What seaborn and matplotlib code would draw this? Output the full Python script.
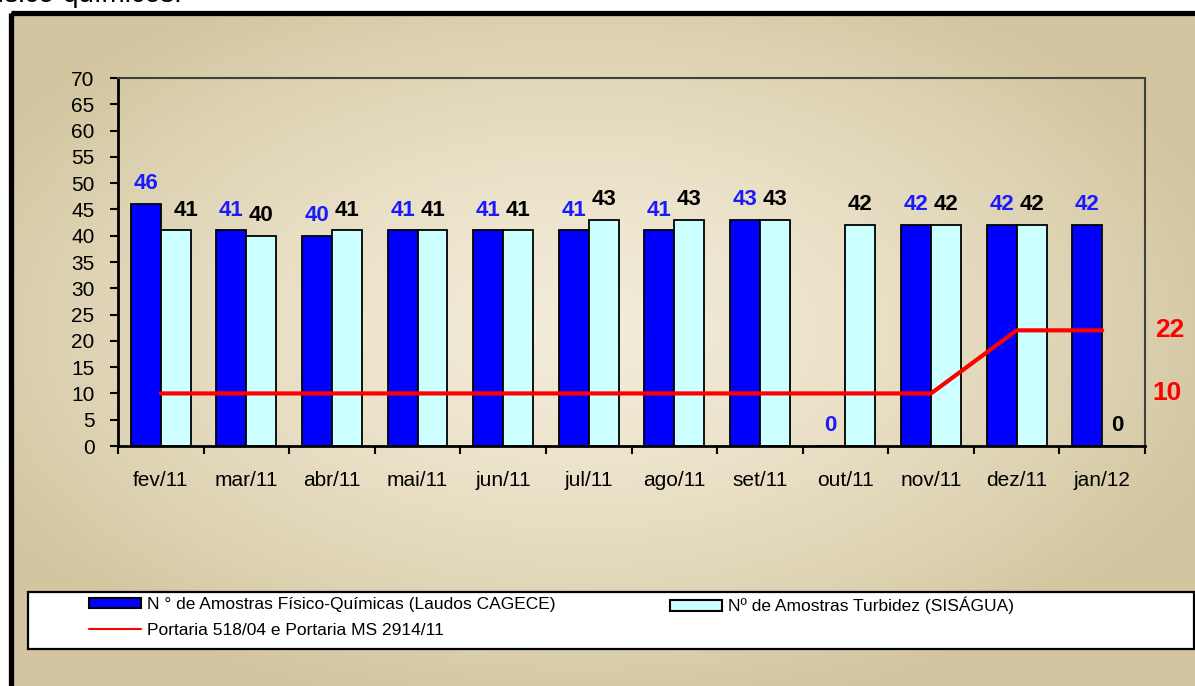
import numpy as np
import pandas as pd
import matplotlib
matplotlib.use("Agg")
import matplotlib.pyplot as plt
from matplotlib.patches import Patch, Rectangle
from matplotlib.lines import Line2D
import seaborn as sns

# dados
meses = ['fev/11', 'mar/11', 'abr/11', 'mai/11', 'jun/11', 'jul/11',
         'ago/11', 'set/11', 'out/11', 'nov/11', 'dez/11', 'jan/12']
fisico_quimicas = [46, 41, 40, 41, 41, 41, 41, 43, 0, 42, 42, 42]
turbidez = [41, 40, 41, 41, 41, 43, 43, 43, 42, 42, 42, 0]
portaria = [10, 10, 10, 10, 10, 10, 10, 10, 10, 10, 22, 22]

serie_fq = 'N ° de Amostras Físico-Químicas (Laudos CAGECE)'
serie_tb = 'Nº de Amostras Turbidez (SISÁGUA)'
serie_port = 'Portaria 518/04 e Portaria MS 2914/11'

cor_fq = '#0000FF'
cor_tb = '#CCFFFF'
cor_port = '#FF0000'

sns.set_theme(style='white', rc={'text.color': 'black', 'xtick.color': 'black',
                                 'ytick.color': 'black', 'axes.labelcolor': 'black'})
plt.rcParams['font.family'] = ['Liberation Sans', 'DejaVu Sans']

W, H = 1195, 686
fig = plt.figure(figsize=(W / 100, H / 100), dpi=100)
fig.patch.set_facecolor('white')

# fundo em degradê (pergaminho) + moldura preta
bg = fig.add_axes([0, 0, 1, 1], zorder=-10)
bg.set_xlim(0, W)
bg.set_ylim(H, 0)
bg.axis('off')
yy, xx = np.mgrid[0:H, 0:W]
t = np.sqrt(((xx - 580) / 680.0) ** 2 + ((yy - 330) / 390.0) ** 2)
t = np.clip(t, 0, 1) ** 1.4
claro = np.array([243, 236, 216]) / 255
escuro = np.array([210, 197, 159]) / 255
img = np.ones((H, W, 4))
img[..., :3] = claro + (escuro - claro) * t[..., None]
img[(xx < 11) | (yy < 12), 3] = 0
bg.imshow(img, extent=[0, W, H, 0], aspect='auto', interpolation='bilinear')
bg.add_patch(Rectangle((11, 12.5), W + 50, H + 50, fill=False, edgecolor='black',
                       lw=3.8, joinstyle='round'))
bg.text(182, 2.5, 'físico-químicos.', ha='right', va='baseline', fontsize=20)

# gráfico principal
ax = fig.add_axes([118 / W, 1 - 446 / H, (1145 - 118) / W, (446 - 78) / H])
ax.set_facecolor('none')

df = pd.DataFrame({
    'mes': meses * 2,
    'serie': [serie_fq] * len(meses) + [serie_tb] * len(meses),
    'valor': fisico_quimicas + turbidez,
})
sns.barplot(data=df, x='mes', y='valor', hue='serie', palette=[cor_fq, cor_tb],
            width=0.7, edgecolor='black', linewidth=1.3, saturation=1,
            legend=False, ax=ax)
sns.lineplot(x=meses, y=portaria, color=cor_port, linewidth=3, sort=False,
             ax=ax, zorder=5)

lbl_fq = ax.bar_label(ax.containers[0], padding=7, color='#1A1AFF',
                      fontsize=16, fontweight='bold')
lbl_tb = ax.bar_label(ax.containers[1], padding=7, color='black',
                      fontsize=16, fontweight='bold')
lbl_tb[0].xyann = (7.5, 7)

ax.set_ylim(0, 70)
ax.set_yticks(range(0, 71, 5))
ax.set_xlim(-0.5, len(meses) - 0.5)
ax.set_xticks(np.arange(-0.5, len(meses), 1), minor=True)
ax.set_xlabel('')
ax.set_ylabel('')
ax.tick_params(axis='x', which='major', bottom=True, length=0, pad=18, labelsize=15)
ax.tick_params(axis='x', which='minor', bottom=True, length=6, width=1.5,
               direction='out', color='black')
ax.tick_params(axis='y', left=True, length=6, width=1.5, direction='out',
               pad=11, labelsize=15, color='black')
for lado in ['left', 'bottom']:
    ax.spines[lado].set_color('black')
    ax.spines[lado].set_linewidth(2)
for lado in ['top', 'right']:
    ax.spines[lado].set_color('#404040')
    ax.spines[lado].set_linewidth(1.5)

# valores da portaria à direita
trans = ax.get_yaxis_transform()
ax.text(1.0243, portaria[-1], str(portaria[-1]), transform=trans, ha='center',
        va='center', color=cor_port, fontsize=19, fontweight='bold')
ax.text(1.021, portaria[0], str(portaria[0]), transform=trans, ha='center',
        va='center', color=cor_port, fontsize=19, fontweight='bold')

# legenda
fig.add_artist(Rectangle((28 / W, 1 - 649 / H), (1194 - 28) / W, (649 - 592) / H,
                         transform=fig.transFigure, facecolor='white',
                         edgecolor='black', lw=1.6, zorder=3))
h_fq = Patch(facecolor=cor_fq, edgecolor='black', linewidth=1.5)
h_tb = Patch(facecolor=cor_tb, edgecolor='black', linewidth=1.5)
h_port = Line2D([], [], color=cor_port, lw=1.5)
opts = dict(loc='upper left', frameon=False, fontsize=12.5, handlelength=3.0,
            handleheight=0.57, handletextpad=0.35, labelspacing=0.62,
            borderpad=0, borderaxespad=0)
fig.legend([h_fq, h_port], [serie_fq, serie_port],
           bbox_to_anchor=(89 / W, 1 - 597 / H), **opts)
fig.legend([h_tb], [serie_tb], bbox_to_anchor=(670 / W, 1 - 597 / H), **opts)

plt.savefig('out.png', dpi=100)
